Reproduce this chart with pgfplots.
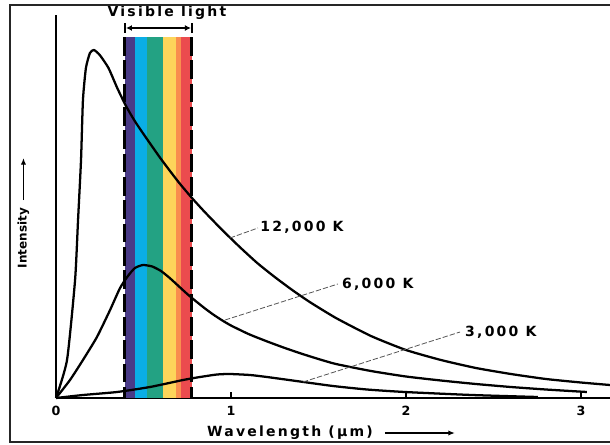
\documentclass[border=0pt]{standalone}
\usepackage{fontspec}
\usepackage{pgfplots}
\pgfplotsset{compat=1.18}
\usetikzlibrary{arrows.meta}

\newfontfamily\lab[LetterSpace=16]{DejaVu Sans}
\newfontfamily\tlab[LetterSpace=8]{DejaVu Sans}
\newcommand\labfont{\lab\bfseries\fontsize{10.5}{12}\selectfont}
\newcommand\tickfont{\tlab\bfseries\fontsize{9.5}{11}\selectfont}
\newcommand\yfont{\fontspec{DejaVu Sans}\bfseries\fontsize{9}{10}\selectfont}

\definecolor{specviolet}{HTML}{4A3B87}
\definecolor{specblue}{HTML}{0AAEE6}
\definecolor{specgreen}{HTML}{23A283}
\definecolor{specyellow}{HTML}{FDD55A}
\definecolor{specorange}{HTML}{F98E4E}
\definecolor{specred}{HTML}{EB4B4E}
\definecolor{leader}{HTML}{555555}

\begin{document}
\begin{tikzpicture}
\begin{axis}[
  at={(0pt,0pt)}, anchor=south west,
  scale only axis, width=415.5pt, height=287.25pt,
  xmin=0, xmax=3.166, ymin=0, ymax=383,
  axis x line=bottom, axis y line=left,
  axis line style={-, line width=1.1pt, black},
  xtick={0,1,2,3}, xticklabels={0,1,2,3}, ytick=\empty,
  tick align=inside, major tick length=4.5pt,
  tick style={line width=1.1pt, black},
  xticklabel style={font=\tickfont, yshift=-2.4pt},
  /pgf/number format/assume math mode=true,
  clip=false,
]
% visible band, violet to red
\addplot[fill=specviolet, draw=none] coordinates {(0.394,0) (0.451,0) (0.451,361) (0.394,361)} -- cycle;
\addplot[fill=specblue,   draw=none] coordinates {(0.451,0) (0.520,0) (0.520,361) (0.451,361)} -- cycle;
\addplot[fill=specgreen,  draw=none] coordinates {(0.520,0) (0.611,0) (0.611,361) (0.520,361)} -- cycle;
\addplot[fill=specyellow, draw=none] coordinates {(0.611,0) (0.686,0) (0.686,361) (0.611,361)} -- cycle;
\addplot[fill=specorange, draw=none] coordinates {(0.686,0) (0.714,0) (0.714,361) (0.686,361)} -- cycle;
\addplot[fill=specred,    draw=none] coordinates {(0.714,0) (0.777,0) (0.777,361) (0.714,361)} -- cycle;
\addplot[black, line width=2.2pt, dash pattern=on 14pt off 3.5pt] coordinates {(0.394,361) (0.394,0)};
\addplot[black, line width=2.2pt, dash pattern=on 14pt off 3.5pt] coordinates {(0.777,361) (0.777,0)};

% bracket over the band
\draw[line width=1.1pt, {Latex[length=4.5pt,width=4.5pt]}-{Latex[length=4.5pt,width=4.5pt]}]
  (axis cs:0.400,370) -- (axis cs:0.771,370);
\draw[line width=1.1pt] (axis cs:0.394,365) -- (axis cs:0.394,375);
\draw[line width=1.1pt] (axis cs:0.777,365) -- (axis cs:0.777,375);
\node[font=\labfont] at (axis cs:0.634,385) {Visible light};

% 12,000 K
\addplot[black, line width=1.7pt, smooth, tension=0.35] coordinates {
  (0,0) (0.063,38) (0.109,118) (0.126,178) (0.143,238) (0.154,298)
  (0.171,330) (0.194,345) (0.217,348) (0.25,343) (0.3,330) (0.35,310)
  (0.4,292) (0.45,277) (0.5,264) (0.6,239) (0.7,216) (0.777,200)
  (0.85,186) (0.95,168) (1.05,151) (1.15,135) (1.25,121) (1.35,108)
  (1.45,96) (1.6,80) (1.8,62) (2.0,48) (2.2,38) (2.4,30) (2.6,24)
  (2.8,19) (3.0,15.5) (3.166,13)};
% 6,000 K
\addplot[black, line width=1.7pt, smooth, tension=0.35] coordinates {
  (0,0) (0.080,18) (0.154,38) (0.234,61) (0.309,88) (0.366,110)
  (0.411,122) (0.451,130) (0.497,133) (0.55,131.5) (0.6,127) (0.65,120)
  (0.7,112) (0.75,104) (0.8,96.7) (0.85,89.7) (0.9,83.3) (0.95,77.6)
  (1.0,72.5) (1.1,64) (1.2,57) (1.3,50.5) (1.4,44.5) (1.5,39) (1.6,34)
  (1.8,27) (2.0,21.5) (2.2,17.5) (2.4,14) (2.6,11) (2.8,8.5) (3.034,6)};
% 3,000 K
\addplot[black, line width=1.7pt, smooth, tension=0.35] coordinates {
  (0,0) (0.154,3) (0.349,6) (0.537,11) (0.726,18) (0.823,21) (0.920,23.5)
  (0.994,24) (1.109,23) (1.206,21) (1.394,16.5) (1.583,12) (1.777,8.5)
  (1.994,6) (2.377,3) (2.754,1)};

% curve labels with leader lines
\draw[leader, line width=0.6pt, dash pattern=on 4pt off 1.5pt] (axis cs:0.994,160) -- (axis cs:1.154,170);
\node[font=\labfont, anchor=west, inner sep=0pt] at (axis cs:1.166,171) {12,000 K};
\draw[leader, line width=0.6pt, dash pattern=on 4pt off 1.5pt] (axis cs:0.966,78) -- (axis cs:1.611,114);
\node[font=\labfont, anchor=west, inner sep=0pt] at (axis cs:1.634,114) {6,000 K};
\draw[leader, line width=0.6pt, dash pattern=on 4pt off 1.5pt] (axis cs:1.411,16) -- (axis cs:2.309,66);
\node[font=\labfont, anchor=west, inner sep=0pt] at (axis cs:2.337,66) {3,000 K};

% axis titles
\node[font=\labfont] at (axis cs:1.337,-35) {Wavelength (µm)};
\draw[line width=1.1pt, -{Latex[length=5pt,width=4pt]}] (axis cs:1.880,-35) -- (axis cs:2.280,-35);
\node[font=\yfont, rotate=90] at (axis cs:-0.186,160) {Intensity};
\draw[line width=1.1pt, -{Latex[length=5pt,width=4pt]}] (axis cs:-0.186,198) -- (axis cs:-0.186,240);
\end{axis}
% outer frame
\draw[line width=1.4pt, black!85] (430pt,294.75pt) -- (-34.5pt,294.75pt) -- (-34.5pt,-33pt) -- (430pt,-33pt);
\pgfresetboundingbox
\useasboundingbox (-42pt,-34.5pt) rectangle (415.5pt,298.5pt);
\end{tikzpicture}
\end{document}
